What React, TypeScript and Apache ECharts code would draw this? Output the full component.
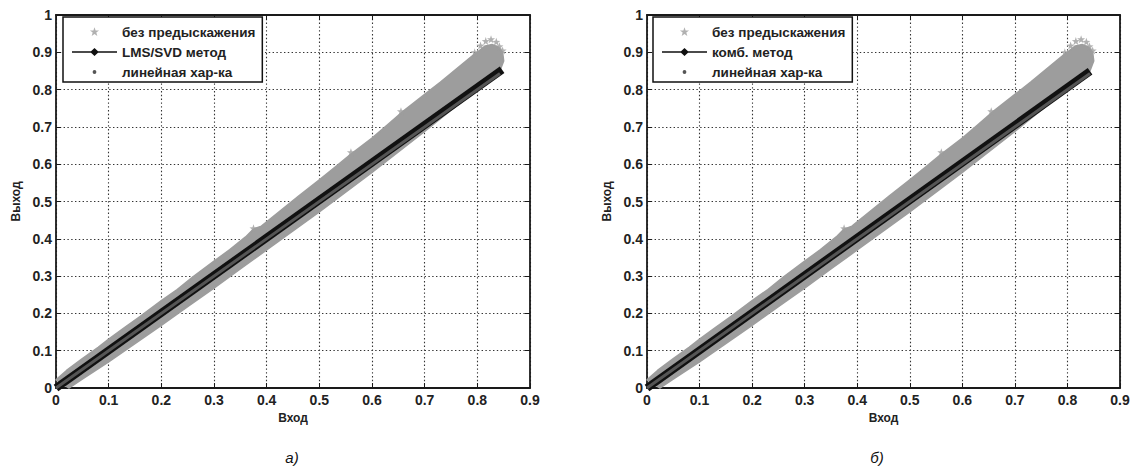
import React, { useEffect, useRef } from 'react';
import * as echarts from 'echarts';

// ---- data ----
const X_MIN = 0;
const X_MAX = 0.9;
const Y_MIN = 0;
const Y_MAX = 1;
const TICK_STEP = 0.1;

const xAxisName = 'Вход';
const yAxisName = 'Выход';
const seriesRaw = 'без предыскажения';
const seriesLinear = 'линейная хар-ка';
const methodNames = ['LMS/SVD метод', 'комб. метод'];
const captions = ['а)', 'б)'];

// upper edge of the dense gray cloud (без предыскажения), from origin to tip
const cloudUpper: number[][] = [
  [0, 0.022], [0.02, 0.047], [0.05, 0.079], [0.08, 0.109], [0.1, 0.131], [0.13, 0.162],
  [0.16, 0.192], [0.2, 0.234], [0.23, 0.264], [0.26, 0.298], [0.3, 0.34], [0.33, 0.371],
  [0.36, 0.405], [0.375, 0.426], [0.39, 0.434], [0.43, 0.48], [0.46, 0.514], [0.5, 0.558],
  [0.53, 0.592], [0.56, 0.627], [0.6, 0.67], [0.63, 0.706], [0.66, 0.743], [0.7, 0.787],
  [0.73, 0.82], [0.76, 0.855], [0.79, 0.89], [0.805, 0.906], [0.815, 0.917], [0.828, 0.921],
  [0.84, 0.914], [0.848, 0.9], [0.85, 0.877], [0.846, 0.862],
];
// lower edge of the gray cloud, from tip back to origin
const cloudLower: number[][] = [
  [0.84, 0.84], [0.8, 0.8], [0.75, 0.745], [0.7, 0.688], [0.65, 0.633], [0.6, 0.578],
  [0.55, 0.525], [0.5, 0.472], [0.45, 0.421], [0.4, 0.37], [0.35, 0.319], [0.3, 0.268],
  [0.25, 0.218], [0.2, 0.168], [0.15, 0.119], [0.1, 0.07], [0.05, 0.024], [0.025, 0],
];
// isolated stars sticking out of the cloud
const cloudStars: number[][] = [
  [0.806, 0.918], [0.816, 0.93], [0.826, 0.935], [0.836, 0.928], [0.842, 0.916],
  [0.848, 0.905], [0.795, 0.9], [0.655, 0.742], [0.56, 0.632], [0.375, 0.428],
];
// corrected characteristics (black) for each panel
const methodLines: number[][][] = [
  [[0, 0], [0.847, 0.853]],
  [[0, 0], [0.843, 0.849]],
];
// ideal linear characteristic
const linearLine: number[][] = [[0, 0], [0.843, 0.843]];

// ---- layout ----
const GRIDS = [
  { left: 56, top: 15, width: 474, height: 373 },
  { left: 647, top: 15, width: 473, height: 373 },
];
const LEGEND_POS = [
  { left: 63, top: 17 },
  { left: 653, top: 17 },
];
const CAPTION_POS = [
  { x: 292, y: 457 },
  { x: 877, y: 457 },
];

const FONT = '"Liberation Sans", Arial, sans-serif';
const GRAY = '#9d9d9d';
const BLACK = '#111111';
const DARK = '#555555';
const AXIS_COLOR = '#1a1a1a';

const CORNERS = 'M0,0h0.01v0.01h-0.01Z M45,14h-0.01v-0.01h0.01Z ';
const starIcon =
  'path://' + CORNERS +
  'M22.5,2.2L23.62,5.45L27.06,5.52L24.31,7.6L25.31,10.9L22.5,8.94L19.69,10.9L20.69,7.6L17.94,5.52L21.38,5.45Z';
const lineIcon =
  'path://' + CORNERS + 'M0,6.3H19L22.5,3L26,6.3H45V7.7H26L22.5,11L19,7.7H0Z';
const dotIcon = 'path://' + CORNERS + 'M20.6,7a1.9,1.9 0 1,0 3.8,0a1.9,1.9 0 1,0 -3.8,0Z';
const starSymbol =
  'path://M5,0L6.18,3.38L9.76,3.45L6.9,5.62L7.94,9.05L5,7L2.06,9.05L3.1,5.62L0.24,3.45L3.82,3.38Z';

function buildOption() {
  const xAxis: any[] = [];
  const yAxis: any[] = [];
  const series: any[] = [];
  const legend: any[] = [];
  const graphic: any[] = [];

  const tickStyle = { show: true, inside: true, length: 5, lineStyle: { color: AXIS_COLOR, width: 1 } };
  const axisLine = { show: true, onZero: false, lineStyle: { color: AXIS_COLOR, width: 1.8 } };
  const labelStyle = { fontFamily: FONT, fontSize: 14, fontWeight: 'bold', color: '#222' };
  const split = { show: true, lineStyle: { type: [1.4, 2.4], color: '#333', width: 1.1 } };

  GRIDS.forEach((g, i) => {
    const xb = 2 * i;
    const yb = 2 * i;
    xAxis.push({
      type: 'value', gridIndex: i, position: 'bottom', min: X_MIN, max: X_MAX, interval: TICK_STEP,
      axisLine, axisTick: tickStyle, splitLine: split,
      axisLabel: { ...labelStyle, margin: 5 },
      name: xAxisName, nameLocation: 'middle', nameGap: 24,
      nameTextStyle: { fontFamily: FONT, fontSize: 12, fontWeight: 'bold', color: '#222' },
    });
    xAxis.push({
      type: 'value', gridIndex: i, position: 'top', min: X_MIN, max: X_MAX, interval: TICK_STEP,
      axisLine, axisTick: tickStyle, splitLine: { show: false }, axisLabel: { show: false },
    });
    yAxis.push({
      type: 'value', gridIndex: i, position: 'left', min: Y_MIN, max: Y_MAX, interval: TICK_STEP,
      axisLine, axisTick: tickStyle, splitLine: split,
      axisLabel: { ...labelStyle, margin: 4 },
      name: yAxisName, nameLocation: 'middle', nameGap: 34,
      nameTextStyle: { fontFamily: FONT, fontSize: 12, fontWeight: 'bold', color: '#222' },
    });
    yAxis.push({
      type: 'value', gridIndex: i, position: 'right', min: Y_MIN, max: Y_MAX, interval: TICK_STEP,
      axisLine, axisTick: tickStyle, splitLine: { show: false }, axisLabel: { show: false },
    });

    const polygonData = cloudUpper.concat(cloudLower);
    series.push({
      type: 'custom', name: 'cloud-' + i, xAxisIndex: xb, yAxisIndex: yb, silent: true, z: 2,
      data: [[0, 0]],
      renderItem: (_p: any, api: any) => ({
        type: 'polygon',
        shape: { points: polygonData.map((p) => api.coord(p)) },
        style: { fill: GRAY, stroke: GRAY, lineWidth: 1.5, lineJoin: 'round' },
      }),
    });
    series.push({
      type: 'scatter', name: seriesRaw, xAxisIndex: xb, yAxisIndex: yb, z: 2,
      symbol: starSymbol, symbolSize: 8, itemStyle: { color: GRAY },
      data: cloudStars, silent: true,
    });
    series.push({
      type: 'line', name: methodNames[i], xAxisIndex: xb, yAxisIndex: yb, z: 3,
      symbol: 'diamond', showSymbol: false, silent: true,
      lineStyle: { color: BLACK, width: 8, cap: 'butt' }, itemStyle: { color: BLACK },
      data: methodLines[i],
    });
    series.push({
      type: 'line', name: seriesLinear, xAxisIndex: xb, yAxisIndex: yb, z: 4,
      symbol: 'circle', showSymbol: false, silent: true,
      lineStyle: { color: DARK, width: 3, cap: 'butt' }, itemStyle: { color: DARK },
      data: linearLine,
    });

    legend.push({
      orient: 'vertical', left: LEGEND_POS[i].left, top: LEGEND_POS[i].top,
      itemWidth: 45, itemHeight: 14, itemGap: 6, padding: [8, 7, 3, 9],
      backgroundColor: '#ffffff', borderColor: BLACK, borderWidth: 1.5, borderRadius: 0,
      selectedMode: false, z: 10,
      itemStyle: { borderWidth: 0 },
      textStyle: { fontFamily: FONT, fontSize: 13.5, fontWeight: 'bold', color: '#222', lineHeight: 14 },
      data: [
        { name: seriesRaw, icon: starIcon },
        { name: methodNames[i], icon: lineIcon },
        { name: seriesLinear, icon: dotIcon },
      ],
    });

    graphic.push({
      type: 'text', x: CAPTION_POS[i].x, y: CAPTION_POS[i].y,
      style: {
        text: captions[i], fontFamily: FONT, fontSize: 15, fontStyle: 'italic',
        fill: '#111', align: 'center', verticalAlign: 'middle',
      },
    });
  });

  return {
    animation: false,
    backgroundColor: '#ffffff',
    grid: GRIDS.map((g) => ({ ...g, containLabel: false })),
    xAxis, yAxis, series, legend, graphic,
  };
}

export default function App() {
  const ref = useRef<HTMLDivElement>(null);
  useEffect(() => {
    if (!ref.current) return;
    const chart = echarts.init(ref.current, undefined, { renderer: 'svg' });
    chart.setOption(buildOption() as any);
    return () => chart.dispose();
  }, []);
  return (
    <div
      ref={ref}
      style={{ position: 'fixed', left: 0, top: 0, width: 1136, height: 471, background: '#fff' }}
    />
  );
}
